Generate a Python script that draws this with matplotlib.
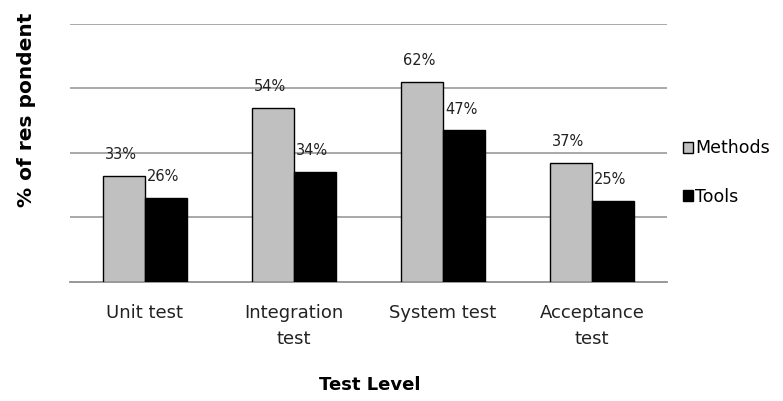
import numpy as np
import matplotlib.pyplot as plt
from matplotlib.patches import Patch

levels = ['Unit test', 'Integration\ntest', 'System test', 'Acceptance\ntest']
methods = [33, 54, 62, 37]
tools = [26, 34, 47, 25]

fig = plt.figure(figsize=(7.83, 4.01), dpi=100)
ax = fig.add_axes([0.0894, 0.2968, 0.762, 0.6434])

x = np.arange(len(levels))
w = 0.282

b1 = ax.bar(x - w / 2, methods, w, color='#c0c0c0', edgecolor='black',
            linewidth=1.0, label='Methods', zorder=3)
b2 = ax.bar(x + w / 2, tools, w, color='black', edgecolor='black',
            linewidth=1.0, label='Tools', zorder=3)

for bars, vals in ((b1, methods), (b2, tools)):
    for bar, v in zip(bars, vals):
        ax.annotate('%d%%' % v,
                    (bar.get_x() + bar.get_width() / 2, bar.get_height()),
                    xytext=(-2, 10), textcoords='offset points',
                    ha='center', va='bottom', fontsize=10.5, color='#222222')

ax.set_ylim(0, 80)
ax.set_xlim(-0.5, 3.5)
ax.set_yticks([20, 40, 60, 80])
ax.set_yticklabels([])
ax.yaxis.grid(True, color='#a8a8a8', linewidth=1.4, zorder=0)
ax.tick_params(axis='both', length=0)
ax.set_xticks(x)
ax.set_xticklabels(levels, fontsize=13, color='#222222',
                   family=['DejaVu Sans Condensed', 'Liberation Sans Narrow',
                           'DejaVu Sans'],
                   linespacing=1.55)
ax.tick_params(axis='x', pad=16)

for s in ('left', 'right', 'top'):
    ax.spines[s].set_visible(False)
ax.spines['bottom'].set_color('#909090')
ax.spines['bottom'].set_linewidth(1.3)

fig.text(0.472, 0.04, 'Test Level', ha='center', va='center',
         fontsize=13, fontweight='bold',
         family=['DejaVu Sans Condensed', 'Liberation Sans Narrow',
                 'DejaVu Sans'])
fig.text(0.034, 0.725, '% of res pondent', ha='center', va='center',
         rotation=90, fontsize=14.5, fontweight='bold')

handles = [Patch(facecolor='#c0c0c0', edgecolor='black', label='Methods'),
           Patch(facecolor='black', edgecolor='black', label='Tools')]
fig.legend(handles=handles, loc='center left', bbox_to_anchor=(0.852, 0.57),
           frameon=False, fontsize=12.5, handlelength=0.6, handleheight=0.6,
           handletextpad=0.1, labelspacing=1.75)

plt.savefig('out.png', dpi=100)
